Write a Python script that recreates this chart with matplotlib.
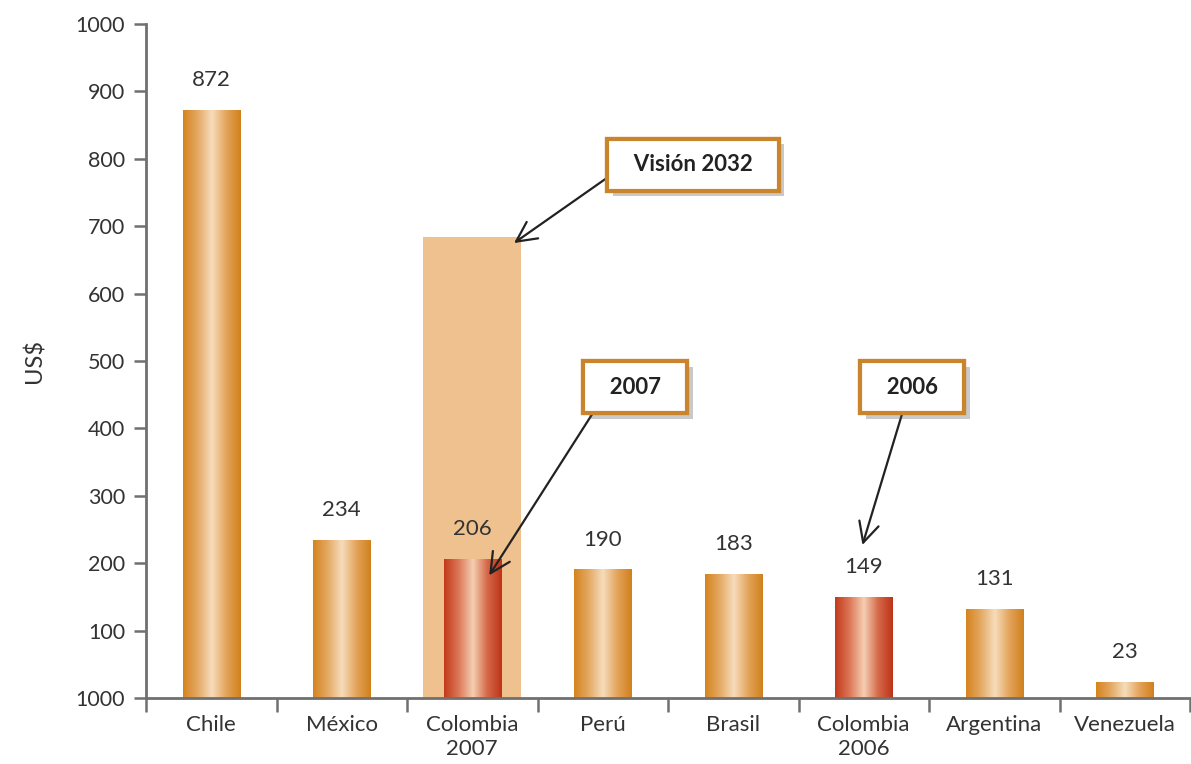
import numpy as np
import matplotlib
matplotlib.use('Agg')
import matplotlib.pyplot as plt
from matplotlib.colors import LinearSegmentedColormap
from matplotlib import patheffects

plt.rcParams['font.family'] = ['Lato', 'DejaVu Sans']

paises = ['Chile', 'México', 'Colombia\n2007', 'Perú', 'Brasil', 'Colombia\n2006', 'Argentina', 'Venezuela']
valores = [872, 234, 206, 190, 183, 149, 131, 23]
rojos = [False, False, True, False, False, True, False, False]
vision_idx = 2
vision_valor = 684
ytick_vals = [0, 100, 200, 300, 400, 500, 600, 700, 800, 900, 1000]
ytick_lbls = ['1000', '100', '200', '300', '400', '500', '600', '700', '800', '900', '1000']

naranja = LinearSegmentedColormap.from_list('nar', ['#d5841f', '#e3a862', '#f7dcbc', '#e3a35a', '#d0811c'])
rojo = LinearSegmentedColormap.from_list('roj', ['#c23a1c', '#dc7656', '#f5cfb2', '#d46848', '#be3318'])

fig = plt.figure(figsize=(11.91, 7.64), dpi=100)
ax = fig.add_axes([146/1191, 66/764, 1044/1191, 674/764])

x = np.arange(len(paises))
ax.bar(vision_idx, vision_valor, width=0.75, color='#efc18f', zorder=1)
bars = ax.bar(x, valores, width=0.44, color='none', zorder=2)

grad = np.linspace(0, 1, 256).reshape(1, -1)
for b, r in zip(bars, rojos):
    bx, bw, bh = b.get_x(), b.get_width(), b.get_height()
    ax.imshow(grad, extent=[bx, bx + bw, 0, bh], aspect='auto',
              cmap=rojo if r else naranja, zorder=2)

for xi, v in zip(x, valores):
    ax.text(xi, v + 45, str(v), ha='center', va='center', fontsize=16, color='#333333')

ax.set_xlim(-0.5, len(paises) - 0.5)
ax.set_ylim(0, 1000)
ax.set_yticks(ytick_vals)
ax.set_yticklabels(ytick_lbls, fontsize=15.5, color='#333333')
ax.set_xticks(x)
ax.set_xticklabels(paises, fontsize=16, color='#333333', linespacing=1.25)
ax.set_xticks(np.arange(len(paises) + 1) - 0.5, minor=True)
ax.tick_params(axis='x', which='major', length=0, pad=12)
ax.tick_params(axis='x', which='minor', length=10, width=1.8, color='#707070', direction='out')
ax.tick_params(axis='y', length=9, width=1.8, color='#707070', pad=6)
for s in ['top', 'right']:
    ax.spines[s].set_visible(False)
for s in ['left', 'bottom']:
    ax.spines[s].set_color('#707070')
    ax.spines[s].set_linewidth(2)
ax.set_ylabel('US$', fontsize=17, color='#333333', labelpad=22)

notas = [('Visión 2032', (3.69, 791), (2.32, 675), (0.0, 0.4)),
         ('2007', (3.25, 461), (2.13, 182), (0.05, 0.0)),
         ('2006', (5.37, 461), (4.99, 227), (0.43, 0.0))]
for txt, pos, tip, rel in notas:
    a = ax.annotate('  ' + txt + '  ', xy=tip, xytext=pos, ha='center', va='center',
                    fontsize=16, fontweight='bold', color='#222222',
                    bbox=dict(boxstyle='square,pad=0.7', fc='white', ec='#c9842c', lw=3),
                    arrowprops=dict(arrowstyle='->,head_length=0.9,head_width=0.45', color='#222222', lw=1.6,
                                    shrinkA=0, shrinkB=0, relpos=rel),
                    zorder=5)
    a.get_bbox_patch().set_path_effects([patheffects.withSimplePatchShadow(offset=(4, -4), alpha=0.3),
                                         patheffects.Normal()])

fig.savefig('out.png', dpi=100)
